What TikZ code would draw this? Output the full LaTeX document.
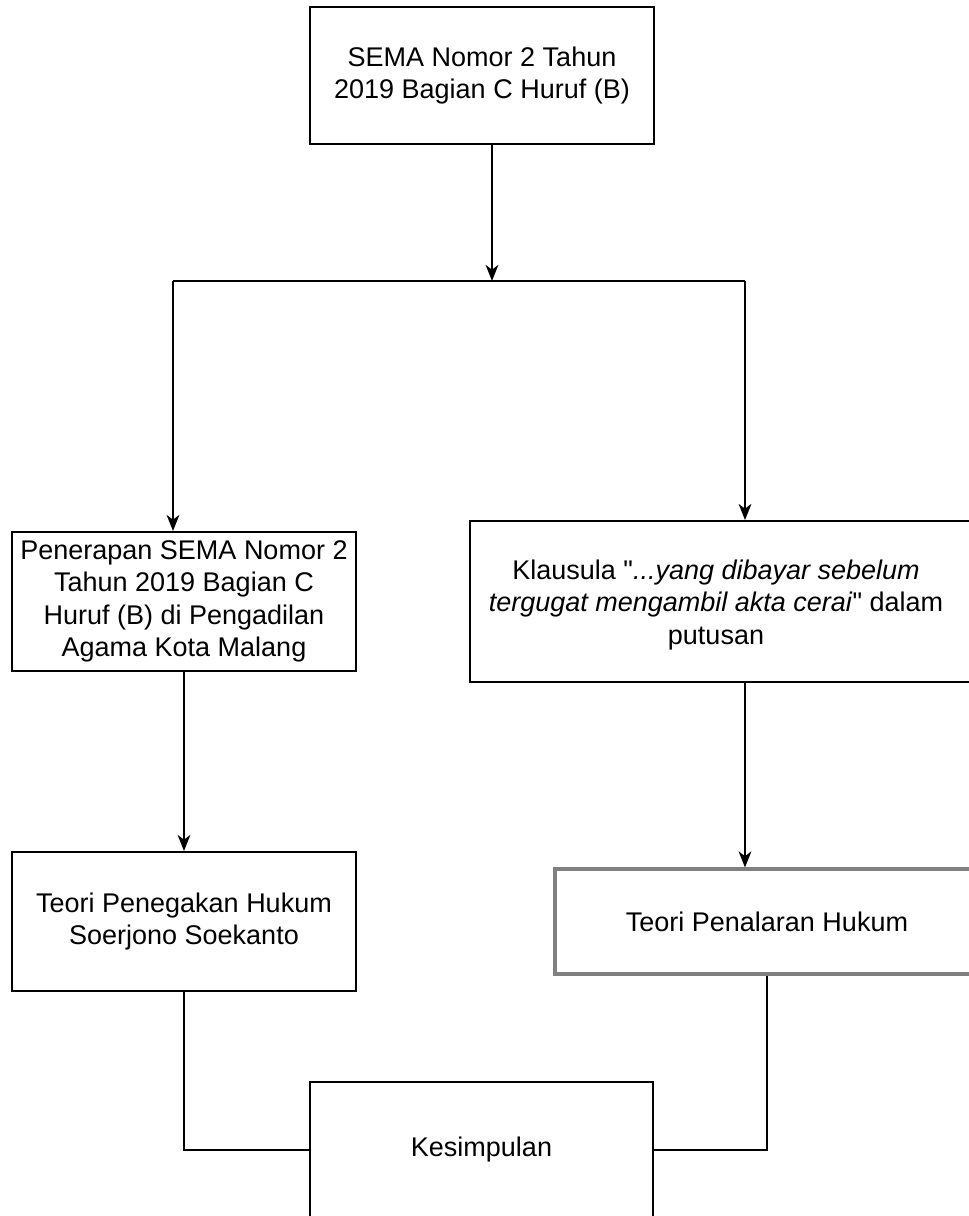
\documentclass[tikz,border=0pt]{standalone}
\usepackage{fontspec}
\setmainfont{Liberation Sans}[Ligatures=TeXOff]
\usetikzlibrary{arrows.meta}
\tikzset{
  box/.style={draw=black, line width=1.5pt, rectangle, inner sep=0pt, align=center, fill=white,
    font=\fontsize{20.25}{24.4}\selectfont},
  graybox/.style={box, draw={rgb,255:red,128;green,128;blue,128}, line width=2.3pt},
  ln/.style={draw=black, line width=1.5pt},
  arr/.style={ln, -{Stealth[length=12pt,width=9.5pt,inset=3.5pt]}}
}
\begin{document}
\begin{tikzpicture}[x=0.75pt,y=-0.75pt]
\useasboundingbox (0,0) rectangle (969,1216);
\clip (0,0) rectangle (969,1216);
\fill[white] (0,0) rectangle (969,1216);
\node[box, minimum width=258pt, minimum height=102.75pt] (top) at (482,75.5)
  {SEMA Nomor 2 Tahun\\2019 Bagian C Huruf (B)};
\node[box, minimum width=258pt, minimum height=104.25pt] (b1) at (184,601.5)
  {Penerapan SEMA Nomor 2\\Tahun 2019 Bagian C\\Huruf (B) di Pengadilan\\Agama Kota Malang};
\node[box, minimum width=375pt, minimum height=120.75pt] (r1) at (720,601.5) {};
\node[font=\fontsize{20.25}{24.4}\selectfont, align=center, inner sep=0pt] (r1t) at (716,605)
  {Klausula "\textit{...yang dibayar sebelum}\\\textit{tergugat mengambil akta cerai}" dalam\\putusan};
\node[box, minimum width=258pt, minimum height=104.25pt] (b2) at (184,921.5)
  {Teori Penegakan Hukum\\Soerjono Soekanto};
\node[graybox, minimum width=318pt, minimum height=78.75pt] (r2) at (767,921.5)
  {Teori Penalaran Hukum};
\node[box, minimum width=257.25pt, minimum height=102pt] (k) at (481.5,1150)
  {Kesimpulan};
\coordinate (j) at (492,281);
\coordinate (jl) at (173,281);
\coordinate (jr) at (745,281);
\draw[arr] (top.south -| j) -- (j);
\draw[ln] (jl) -- (jr);
\draw[arr] (jl) -- (jl |- b1.north);
\draw[arr] (jr) -- (jr |- r1.north);
\draw[arr] (b1.south) -- (b2.north);
\draw[arr] (r1.south -| jr) -- (r2.north -| jr);
\draw[ln] (b2.south) |- (k.west);
\draw[ln] (r2.south) |- (k.east);
\end{tikzpicture}
\end{document}
